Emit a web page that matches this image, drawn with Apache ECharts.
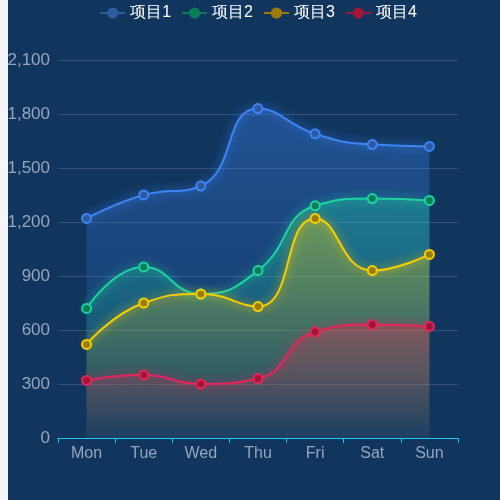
<!DOCTYPE html>
<html>
<head>
    <meta charset="utf-8">
    <title>项目趋势</title>
    <script src="https://cdn.jsdelivr.net/npm/echarts@6/dist/echarts.min.js"></script>
    <style>
        html, body {
            margin: 0;
            padding: 0;
            overflow: hidden;
            background-color: #11365e;
        }
        #strip {
            position: fixed;
            left: 0;
            top: 0;
            width: 8px;
            height: 100%;
            background-color: #f4f6fa;
        }
        #chart {
            position: absolute;
            left: 8px;
            top: 0;
            width: 500px;
            height: 500px;
            background-color: #11365e;
        }
    </style>
</head>
<body>
    <div id="strip"></div>
    <div id="chart"></div>
    <script>
        const days = ['Mon', 'Tue', 'Wed', 'Thu', 'Fri', 'Sat', 'Sun'];
        const names = ['项目1', '项目2', '项目3', '项目4'];
        const item1 = [1220, 1350, 1400, 1830, 1690, 1630, 1620];
        const item2 = [720, 950, 800, 930, 1290, 1330, 1320];
        const item3 = [520, 750, 800, 730, 1220, 930, 1020];
        const item4 = [320, 350, 300, 330, 590, 630, 620];

        // line colour, dark fill (points + legend), area rgb
        const lineColors = ['#3d85f5', '#1fd3a0', '#f7cf00', '#e8245a'];
        const darkColors = ['#2e5aa0', '#0b7d58', '#9c7c06', '#a01838'];
        const areaRgb = ['61,133,245', '31,211,160', '247,207,0', '232,50,80'];

        const chart = echarts.init(document.getElementById('chart'));

        function makeSeries(i, data) {
            return {
                name: names[i],
                type: 'line',
                data: data,
                smooth: true,
                symbol: 'circle',
                symbolSize: 9,
                itemStyle: {
                    color: darkColors[i],
                    borderColor: lineColors[i],
                    borderWidth: 2
                },
                lineStyle: {
                    color: lineColors[i],
                    width: 2,
                    shadowColor: lineColors[i],
                    shadowBlur: 10
                },
                areaStyle: {
                    color: new echarts.graphic.LinearGradient(0, 0, 0, 1, [
                        { offset: 0, color: 'rgba(' + areaRgb[i] + ',0.5)' },
                        { offset: 1, color: 'rgba(' + areaRgb[i] + ',0.03)' }
                    ])
                }
            };
        }

        const option = {
            backgroundColor: '#11365e',
            legend: {
                top: 0,
                itemGap: 10,
                textStyle: { color: '#ffffff', fontSize: 16 },
                data: names.map((n, i) => ({
                    name: n,
                    itemStyle: { color: darkColors[i], borderWidth: 0 },
                    lineStyle: { color: darkColors[i] }
                }))
            },
            grid: {
                left: 50,
                right: 50,
                top: 60,
                bottom: 62,
                containLabel: false,
                outerBoundsMode: 'none'
            },
            xAxis: {
                type: 'category',
                data: days,
                boundaryGap: true,
                axisLine: { show: true, lineStyle: { color: '#1ec8f5' } },
                axisTick: { show: true, length: 5, lineStyle: { color: '#1ec8f5' } },
                axisLabel: { color: '#93a5bf', fontSize: 16 }
            },
            yAxis: {
                type: 'value',
                min: 0,
                max: 2100,
                interval: 300,
                axisLine: { show: false },
                axisTick: { show: false },
                axisLabel: { color: '#93a5bf', fontSize: 17 },
                splitLine: { lineStyle: { color: 'rgba(255,255,255,0.15)' } }
            },
            series: [
                makeSeries(0, item1),
                makeSeries(1, item2),
                makeSeries(2, item3),
                makeSeries(3, item4)
            ]
        };
        chart.setOption(option);
    </script>
</body>
</html>
